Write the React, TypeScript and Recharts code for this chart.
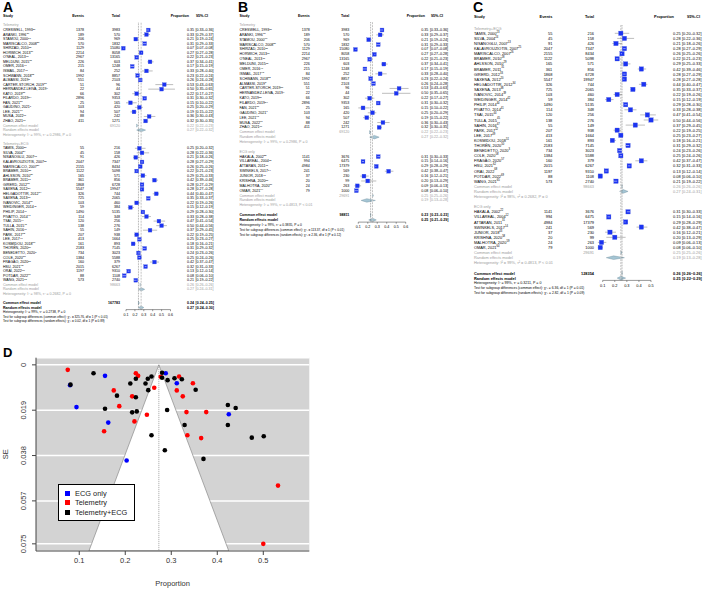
import React from 'react';
import {
  ComposedChart,
  Scatter,
  Area,
  XAxis,
  YAxis,
  ReferenceLine,
  ErrorBar,
  CartesianGrid,
  Legend,
} from 'recharts';

const FONT = '"Liberation Sans", Arial, Helvetica, sans-serif';
const GRAY = '#9c9c9c';

// ---------- Telemetry studies
const telNames = ['CRESWELL, 1993', 'ARANKI, 1996', 'STAMOU, 2000', 'MARISCALCO, 2008', 'SHIRZAD, 2010', 'HORWICH, 2013', "O'NEAL, 2013", 'MELDUNI, 2015', 'OMER, 2016', 'ISMAIL, 2017', 'SCHWANN, 2018', 'ALMASSI, 2019', 'CARTER-STORCH, 2019', 'HERNÁNDEZ-LEIVA, 2019', 'KATO, 2019', 'FILARDO, 2019', 'FAN, 2021', 'GAUDINO, 2021', 'LEE, 2021', 'MUSA, 2022', 'ZHAO, 2021'];
const telRefs = ['21', '30', '17', '27', '35', '36', '37', '15', '46', '48', '52', '5', '53', '4', '55', '54', '57', '7', '61', '67', '66'];
const telEvents = [1378, 189, 206, 570, 1129, 2214, 2967, 226, 215, 84, 1992, 551, 51, 22, 66, 2896, 25, 103, 94, 88, 411];
const telTotals = [3983, 570, 969, 1832, 15080, 8058, 13165, 603, 1248, 252, 8857, 2103, 96, 44, 302, 9353, 165, 420, 507, 242, 1271];
const telProp = [0.35, 0.33, 0.21, 0.31, 0.07, 0.27, 0.22, 0.37, 0.17, 0.33, 0.23, 0.26, 0.53, 0.5, 0.22, 0.31, 0.15, 0.25, 0.19, 0.36, 0.32];
const telLow = [0.33, 0.29, 0.19, 0.29, 0.07, 0.27, 0.21, 0.34, 0.15, 0.28, 0.22, 0.24, 0.43, 0.35, 0.17, 0.3, 0.1, 0.2, 0.15, 0.3, 0.3];
const telHigh = [0.36, 0.37, 0.24, 0.33, 0.08, 0.28, 0.23, 0.41, 0.19, 0.4, 0.24, 0.28, 0.63, 0.65, 0.27, 0.32, 0.22, 0.29, 0.22, 0.43, 0.35];

// ---------- Telemetry+ECG studies
const teNames = ['TAMIS, 2000', 'SILVA, 2004', 'NISANOGLU, 2007', 'KALAVROUZIOTIS, 2007', 'MARISCALCO, 2007', 'BRAMER, 2010', 'AHLSSON, 2010', 'BRAMER, 2011', 'GIRERD, 2012', 'SAXENA, 2012', 'HELGADOTTIR, 2012', 'SAXENA, 2013', 'IVANOVIC, 2014', 'WEIDINGER, 2014', 'PHILIP, 2014', 'PIVATTO, 2014', 'TSAI, 2015', 'TULLA, 2015', 'SAHIN, 2016', 'PARK, 2017', 'LEE, 2017', 'KOSMIDOU, 2018', 'THORÉN, 2020', 'BENEDETTO, 2020', 'COLE, 2020', 'FRAGÃO, 2020', 'HSU, 2021', 'ORAI, 2022', 'POTDAR, 2022', 'WANG, 2021'];
const teRefs = ['23', '24', '13', '25', '26', '28', '29', '31', '33', '20', '34', '38', '39', '42', '40', '41', '44', '45', '47', '12', '49', '51', '50', '3', '58', '57', '62', '68', '69', '65'];
const teEvents = [55, 45, 91, 2047, 2155, 1122, 165, 361, 1868, 5547, 326, 725, 103, 59, 1490, 114, 120, 138, 55, 207, 413, 161, 2183, 734, 1384, 160, 2015, 1197, 88, 573];
const teTotals = [216, 158, 426, 7347, 8434, 5098, 571, 856, 6728, 19947, 744, 2065, 460, 384, 5135, 348, 256, 276, 149, 938, 1664, 893, 7145, 3023, 5588, 379, 6267, 9310, 1108, 2740];
const teProp = [0.25, 0.28, 0.21, 0.28, 0.26, 0.22, 0.29, 0.42, 0.28, 0.28, 0.44, 0.35, 0.22, 0.15, 0.29, 0.33, 0.47, 0.5, 0.37, 0.22, 0.25, 0.18, 0.31, 0.24, 0.25, 0.42, 0.32, 0.13, 0.08, 0.21];
const teLow = [0.2, 0.22, 0.18, 0.27, 0.25, 0.21, 0.25, 0.39, 0.27, 0.27, 0.4, 0.33, 0.19, 0.12, 0.28, 0.28, 0.41, 0.44, 0.29, 0.19, 0.23, 0.16, 0.29, 0.23, 0.24, 0.37, 0.31, 0.12, 0.06, 0.19];
const teHigh = [0.32, 0.36, 0.26, 0.29, 0.26, 0.23, 0.33, 0.46, 0.29, 0.28, 0.47, 0.37, 0.26, 0.19, 0.3, 0.38, 0.54, 0.56, 0.45, 0.25, 0.27, 0.21, 0.32, 0.26, 0.26, 0.47, 0.33, 0.14, 0.1, 0.22];

// ---------- ECG only studies
const ecgNames = ['HAKALA, 2002', 'VILLAREAL, 2004', 'ATTARAN, 2011', 'SWINKELS, 2017', 'JUNIOR, 2018', 'KRISHNA, 2020', 'MALHOTRA, 2020', 'OMAR, 2021'];
const ecgRefs = ['22', '12', '31', '14', '43', '58', '59', '64'];
const ecgEvents = [1141, 994, 4984, 241, 37, 20, 24, 79];
const ecgTotals = [3676, 6475, 17379, 569, 230, 99, 263, 1000];
const ecgProp = [0.31, 0.15, 0.29, 0.42, 0.16, 0.2, 0.09, 0.08];
const ecgLow = [0.3, 0.14, 0.28, 0.38, 0.12, 0.13, 0.06, 0.06];
const ecgHigh = [0.33, 0.16, 0.29, 0.47, 0.21, 0.29, 0.13, 0.1];

// ---------- pooled estimates: [estimate, lower, upper]
const telCommon = [0.22, 0.22, 0.23];
const telRandom = [0.27, 0.22, 0.32];
const teCommon = [0.26, 0.26, 0.26];
const teRandom = [0.27, 0.24, 0.31];
const ecgCommon = [0.25, 0.25, 0.26];
const ecgRandom = [0.19, 0.13, 0.28];

const overallCommonA = [0.24, 0.24, 0.25];
const overallRandomA = [0.27, 0.24, 0.3];
const overallCommonB = [0.23, 0.23, 0.23];
const overallRandomB = [0.25, 0.21, 0.29];
const overallCommonC = [0.26, 0.26, 0.26];
const overallRandomC = [0.25, 0.22, 0.29];

const forestTicksAB = [0.1, 0.2, 0.3, 0.4, 0.5, 0.6];
const forestTicksC = [0.1, 0.2, 0.3, 0.4, 0.5];

// ---------- funnel plot (proportion, standard error)
const ecgX = [0.08, 0.094, 0.156, 0.163, 0.203, 0.288, 0.312, 0.425];
const ecgSE = [0.0085, 0.0177, 0.0046, 0.0242, 0.0401, 0.0035, 0.0077, 0.0207];
const telX = [0.075, 0.175, 0.215, 0.187, 0.223, 0.228, 0.263, 0.277, 0.247, 0.22, 0.154, 0.317, 0.312, 0.325, 0.347, 0.333, 0.335, 0.365, 0.376, 0.532, 0.5];
const telSE = [0.0021, 0.0107, 0.0132, 0.0173, 0.0035, 0.0046, 0.0096, 0.005, 0.0209, 0.0237, 0.0278, 0.0049, 0.0107, 0.0132, 0.0077, 0.0198, 0.0295, 0.0307, 0.0198, 0.0506, 0.075];
const teX = [0.081, 0.131, 0.156, 0.182, 0.211, 0.223, 0.223, 0.215, 0.225, 0.244, 0.249, 0.257, 0.25, 0.257, 0.28, 0.28, 0.292, 0.307, 0.323, 0.353, 0.291, 0.329, 0.286, 0.37, 0.423, 0.44, 0.423, 0.475, 0.501];
const teSE = [0.0083, 0.0035, 0.0184, 0.0129, 0.0078, 0.0058, 0.0136, 0.0199, 0.0195, 0.0078, 0.0058, 0.0049, 0.0106, 0.0295, 0.0033, 0.0054, 0.0064, 0.0056, 0.006, 0.0104, 0.0189, 0.0252, 0.0358, 0.0394, 0.0168, 0.0181, 0.0252, 0.0305, 0.0299];
const funnelX = [0.121, 0.273, 0.425];
const funnelSE = [0.078, 0, 0.078];
const funnelCenter = 0.273;
const seTicks = [0, 0.019, 0.038, 0.057, 0.075];
const propTicks = [0.1, 0.2, 0.3, 0.4, 0.5];
const seriesNames = ['ECG only', 'Telemetry', 'Telemetry+ECG'];
const seriesColors = ['#0000ff', '#ff0000', '#000000'];

interface Group {
  label: string;
  names: string[];
  refs: string[];
  events: number[];
  totals: number[];
  prop: number[];
  low: number[];
  high: number[];
  total: number;
  common: number[];
  random: number[];
  het: string;
}

interface Overall {
  total: number;
  common: number[];
  random: number[];
  het: string;
  testCommon: string;
  testRandom: string;
  lineCommon: number;
  lineRandom: number;
}

interface Layout {
  left: number;
  width: number;
  height: number;
  rowH: number;
  y0: number;
  yMin: number;
  yMax: number;
  xMin: number;
  xMax: number;
  plotL: number;
  plotR: number;
  fs: number;
  sq: number;
  nameX: number;
  eventsR: number;
  totalR: number;
  propR: number;
  ciL: number;
  hdrPropR: number;
  hdrCiR: number;
  hdrIdx: number;
}

const telemetry: Group = {
  label: 'Telemetry', names: telNames, refs: telRefs, events: telEvents, totals: telTotals,
  prop: telProp, low: telLow, high: telHigh, total: 69120, common: telCommon, random: telRandom,
  het: 'Heterogeneity: I² = 99%, τ² = 0.2986, P = 0',
};
const telEcg: Group = {
  label: 'Telemetry+ECG', names: teNames, refs: teRefs, events: teEvents, totals: teTotals,
  prop: teProp, low: teLow, high: teHigh, total: 98663, common: teCommon, random: teRandom,
  het: 'Heterogeneity: I² = 98%, τ² = 0.2682, P = 0',
};
const ecgOnly: Group = {
  label: 'ECG only', names: ecgNames, refs: ecgRefs, events: ecgEvents, totals: ecgTotals,
  prop: ecgProp, low: ecgLow, high: ecgHigh, total: 29691, common: ecgCommon, random: ecgRandom,
  het: 'Heterogeneity: I² = 99%, τ² = 0.4813, P < 0.01',
};

interface Row {
  idx: number;
  kind: string;
  text?: string;
  ref?: string;
  events?: number;
  total?: number;
  est?: number;
  lo?: number;
  hi?: number;
}

function buildRows(groups: Group[], ov: Overall, hdrIdx: number): Row[] {
  const rows: Row[] = [{ idx: hdrIdx, kind: 'header' }];
  let i = -1;
  groups.forEach((g, gi) => {
    if (gi > 0) i += 1;
    rows.push({ idx: i++, kind: 'group', text: g.label });
    g.names.forEach((n, k) => {
      rows.push({
        idx: i++, kind: 'study', text: n, ref: g.refs[k], events: g.events[k], total: g.totals[k],
        est: g.prop[k], lo: g.low[k], hi: g.high[k],
      });
    });
    rows.push({ idx: i++, kind: 'common', text: 'Common effect model', total: g.total, est: g.common[0], lo: g.common[1], hi: g.common[2] });
    rows.push({ idx: i++, kind: 'random', text: 'Random effects model', est: g.random[0], lo: g.random[1], hi: g.random[2] });
    rows.push({ idx: i++, kind: 'het', text: g.het });
  });
  i += 1;
  rows.push({ idx: i++, kind: 'ocommon', text: 'Common effect model', total: ov.total, est: ov.common[0], lo: ov.common[1], hi: ov.common[2] });
  rows.push({ idx: i++, kind: 'orandom', text: 'Random effects model', est: ov.random[0], lo: ov.random[1], hi: ov.random[2] });
  rows.push({ idx: i++, kind: 'ohet', text: ov.het });
  rows.push({ idx: i++, kind: 'test', text: 'Test for subgroup differences (common effect): ' + ov.testCommon });
  rows.push({ idx: i++, kind: 'test', text: 'Test for subgroup differences (random effects): ' + ov.testRandom });
  return rows;
}

const ci = (lo: number, hi: number) => `[${lo.toFixed(2)}–${hi.toFixed(2)}]`;

function makeRowTick(rows: Row[], L: Layout) {
  return function RowTick(props: any) {
    const { y, payload } = props;
    const row = rows.find((r) => Math.abs(r.idx - payload.value) < 1e-6);
    if (!row) return <g />;
    const base = { y, fontSize: L.fs, fontFamily: FONT, dominantBaseline: 'central' as const };
    if (row.kind === 'header') {
      return (
        <g fontWeight="bold" fill="#000">
          <text {...base} x={L.nameX}>Study</text>
          <text {...base} x={L.eventsR} textAnchor="end">Events</text>
          <text {...base} x={L.totalR} textAnchor="end">Total</text>
          <text {...base} x={L.hdrPropR} textAnchor="end">Proportion</text>
          <text {...base} x={L.hdrCiR} textAnchor="end">95%-CI</text>
        </g>
      );
    }
    if (row.kind === 'group' || row.kind === 'het') {
      return <text {...base} x={L.nameX} fill={GRAY}>{row.text}</text>;
    }
    if (row.kind === 'ohet') {
      return <text {...base} x={L.nameX} fill="#000" fontSize={L.fs * 0.92}>{row.text}</text>;
    }
    if (row.kind === 'test') {
      return <text {...base} x={L.nameX} fill="#000" fontSize={L.fs * 0.86}>{row.text}</text>;
    }
    const bold = row.kind === 'ocommon' || row.kind === 'orandom';
    const color = row.kind === 'common' || row.kind === 'random' ? GRAY : '#000';
    return (
      <g fill={color} fontWeight={bold ? 'bold' : 'normal'}>
        <text {...base} x={L.nameX}>
          {row.text}
          {row.ref && (
            <tspan fontSize={L.fs * 0.68} dy={-L.fs * 0.4}>{row.ref}</tspan>
          )}
        </text>
        {row.events !== undefined && (
          <text {...base} x={L.eventsR} textAnchor="end">{row.events}</text>
        )}
        {row.total !== undefined && (
          <text {...base} x={L.totalR} textAnchor="end">{row.total}</text>
        )}
        <text {...base} x={L.propR} textAnchor="end">{(row.est as number).toFixed(2)}</text>
        <text {...base} x={L.ciL}>{ci(row.lo as number, row.hi as number)}</text>
      </g>
    );
  };
}

function makeSquare(size: number, ppu: number) {
  return function Square(props: any) {
    const { cx, cy, payload } = props;
    if (cx == null || cy == null) return <g />;
    const h = size / 2;
    const left = cx - payload.err[0] * ppu;
    const right = cx + payload.err[1] * ppu;
    return (
      <g>
        <rect x={cx - h} y={cy - h} width={size} height={size} fill="#1b33f2" stroke="#5566dd" strokeWidth={0.3} />
        {right - left < size && (
          <line x1={left} x2={right} y1={cy} y2={cy} stroke="#ffffff" strokeWidth={0.5} />
        )}
      </g>
    );
  };
}

function Forest({ label, L, groups, ov, ticks }: { label: string; L: Layout; groups: Group[]; ov: Overall; ticks: number[] }) {
  const rows = buildRows(groups, ov, L.hdrIdx);
  const studyPts = rows
    .filter((r) => r.kind === 'study')
    .map((r) => ({ x: r.est as number, y: r.idx, err: [(r.est as number) - (r.lo as number), (r.hi as number) - (r.est as number)] }));
  const diamondRows = rows.filter((r) => ['common', 'random', 'ocommon', 'orandom'].includes(r.kind));
  const orandomIdx = (rows.find((r) => r.kind === 'orandom') as Row).idx;
  const axisRow = orandomIdx + 0.45;
  const tickLen = 1.6 / L.rowH;
  const top = L.y0 + L.yMin * L.rowH;
  const bottom = L.height - (L.y0 + L.yMax * L.rowH);
  const ppu = (L.plotR - L.plotL) / (L.xMax - L.xMin);
  const RowTick = makeRowTick(rows, L);
  const Square = makeSquare(L.sq, ppu);
  const hh = 0.36;

  return (
    <div style={{ position: 'absolute', left: L.left, top: 0, width: L.width, height: L.height }}>
      <div style={{ position: 'absolute', left: 3, top: 1, fontSize: 14, lineHeight: '12px', height: 12, fontWeight: 'bold', fontFamily: FONT }}>
        {label}
      </div>
      <ComposedChart
        width={L.width}
        height={L.height}
        margin={{ top, right: L.width - L.plotR, bottom, left: L.plotL - 1 }}
      >
        <XAxis type="number" dataKey="x" domain={[L.xMin, L.xMax]} hide allowDataOverflow />
        <YAxis
          type="number"
          dataKey="y"
          domain={[L.yMin, L.yMax]}
          reversed
          allowDataOverflow
          width={1}
          axisLine={false}
          tickLine={false}
          interval={0}
          ticks={rows.map((r) => r.idx)}
          tick={RowTick}
        />
        <ReferenceLine
          segment={[{ x: ov.lineRandom, y: -1.6 }, { x: ov.lineRandom, y: axisRow }]}
          stroke="#c4c4c4"
          strokeWidth={1}
          strokeDasharray="2 1"
        />
        <ReferenceLine
          segment={[{ x: ov.lineCommon, y: -1.6 }, { x: ov.lineCommon, y: axisRow }]}
          stroke="#666"
          strokeWidth={0.6}
          strokeDasharray="0.8 0.8"
        />
        <ReferenceLine
          segment={[{ x: ticks[0], y: axisRow }, { x: ticks[ticks.length - 1], y: axisRow }]}
          stroke="#333"
          strokeWidth={0.5}
        />
        {ticks.map((t) => (
          <ReferenceLine
            key={`t${t}`}
            segment={[{ x: t, y: axisRow }, { x: t, y: axisRow + tickLen }]}
            stroke="#333"
            strokeWidth={0.5}
            label={{ value: t.toFixed(1), position: 'bottom', offset: 1.8, fontSize: L.fs, fill: '#000', fontFamily: FONT }}
          />
        ))}
        {diamondRows.map((r) => (
          <Area
            key={`d${r.idx}`}
            data={[
              { x: r.lo, band: [r.idx, r.idx] },
              { x: r.est, band: [r.idx - hh, r.idx + hh] },
              { x: r.hi, band: [r.idx, r.idx] },
            ]}
            dataKey="band"
            type="linear"
            fill="#a4c5d4"
            fillOpacity={1}
            stroke="#6f8e9c"
            strokeWidth={0.4}
            dot={false}
            activeDot={false}
            isAnimationActive={false}
          />
        ))}
        <Scatter data={studyPts} shape={Square} isAnimationActive={false}>
          <ErrorBar dataKey="err" direction="x" width={0} stroke="#7a7a7a" strokeWidth={0.5} />
        </Scatter>
      </ComposedChart>
    </div>
  );
}

const layoutA: Layout = {
  left: 0, width: 235, height: 340, rowH: 4.55, y0: 30, yMin: -3.6, yMax: 64.6, xMin: 0, xMax: 0.7,
  plotL: 117.1, plotR: 179.4, fs: 3.6, sq: 3.8, nameX: 3, eventsR: 84, totalR: 120, propR: 194, ciL: 195.5,
  hdrPropR: 189, hdrCiR: 208, hdrIdx: -3.0,
};
const layoutB: Layout = {
  left: 235, width: 235, height: 340, rowH: 4.87, y0: 30, yMin: -3.4, yMax: 42.6, xMin: 0, xMax: 0.7,
  plotL: 113.8, plotR: 180.2, fs: 3.6, sq: 3.9, nameX: 4.5, eventsR: 74.7, totalR: 114.3, propR: 193.3, ciL: 195,
  hdrPropR: 190, hdrCiR: 208, hdrIdx: -2.8,
};
const layoutC: Layout = {
  left: 470, width: 239, height: 340, rowH: 5.1, y0: 33.3, yMin: -3.9, yMax: 52.6, xMin: 0.02, xMax: 0.58,
  plotL: 123.04, plotR: 190.66, fs: 3.9, sq: 4.4, nameX: 4, eventsR: 82.3, totalR: 124, propR: 210.7, ciL: 212,
  hdrPropR: 204, hdrCiR: 230, hdrIdx: -3.3,
};

const overallA: Overall = {
  total: 167783, common: overallCommonA, random: overallRandomA,
  het: 'Heterogeneity: I² = 99%, τ² = 0.2738, P = 0',
  testCommon: 'χ²₁ = 325.76, df = 1 (P < 0.01)', testRandom: 'χ²₁ = 0.02, df = 1 (P = 0.89)',
  lineCommon: 0.24, lineRandom: 0.27,
};
const overallB: Overall = {
  total: 98811, common: overallCommonB, random: overallRandomB,
  het: 'Heterogeneity: I² = 99%, τ² = 0.3835, P = 0',
  testCommon: 'χ²₁ = 113.37, df = 1 (P < 0.01)', testRandom: 'χ²₁ = 2.36, df = 1 (P = 0.12)',
  lineCommon: 0.23, lineRandom: 0.25,
};
const overallC: Overall = {
  total: 128354, common: overallCommonC, random: overallRandomC,
  het: 'Heterogeneity: I² = 99%, τ² = 0.3211, P = 0',
  testCommon: 'χ²₁ = 6.36, df = 1 (P = 0.01)', testRandom: 'χ²₁ = 2.82, df = 1 (P = 0.09)',
  lineCommon: 0.26, lineRandom: 0.25,
};

function Dot(props: any) {
  const { cx, cy, fill } = props;
  if (cx == null || cy == null) return <g />;
  return <circle cx={cx} cy={cy} r={2.3} fill={fill} />;
}

function SeTick(props: any) {
  const { x, y, payload } = props;
  const bx = x - 4;
  return (
    <text
      x={bx}
      y={y}
      transform={`rotate(-90, ${bx}, ${y})`}
      textAnchor="middle"
      fontSize={7.5}
      fontFamily={FONT}
      fill="#333"
    >
      {payload.value === 0 ? '0' : String(payload.value)}
    </text>
  );
}

function FunnelLegend() {
  return (
    <div
      style={{
        border: '1px solid #000',
        background: '#fff',
        width: 77,
        height: 37,
        boxSizing: 'border-box',
        padding: '4px 0 0 6px',
        fontFamily: FONT,
        fontSize: 7.4,
        color: '#222',
      }}
    >
      {seriesNames.map((n, i) => (
        <div key={n} style={{ display: 'flex', alignItems: 'center', height: 9.3 }}>
          <span style={{ width: 5, height: 5, background: seriesColors[i], marginRight: 5, display: 'inline-block' }} />
          <span>{n}</span>
        </div>
      ))}
    </div>
  );
}

function Funnel() {
  const ecgPts = ecgX.map((x, i) => ({ x, y: ecgSE[i] }));
  const telPts = telX.map((x, i) => ({ x, y: telSE[i] }));
  const tePts = teX.map((x, i) => ({ x, y: teSE[i] }));
  const funnelData = funnelX.map((x, i) => ({ x, band: [funnelSE[i], 0.078] }));
  return (
    <div style={{ position: 'absolute', left: 0, top: 340, width: 360, height: 250 }}>
      <div style={{ position: 'absolute', left: 3, top: 6, fontSize: 13, lineHeight: '13px', fontWeight: 'bold', fontFamily: FONT }}>
        D
      </div>
      <ComposedChart width={360} height={250} margin={{ top: 17.7, right: 50.7, bottom: 17, left: 8 }}>
        <CartesianGrid vertical={false} stroke="#ffffff" strokeWidth={1.5} fill="#d3d3d3" fillOpacity={1} />
        <XAxis
          type="number"
          dataKey="x"
          domain={[0.006, 0.6]}
          allowDataOverflow
          ticks={propTicks}
          height={22}
          tickSize={4}
          tickMargin={3}
          stroke="#444"
          tick={{ fontSize: 7.5, fill: '#333', fontFamily: FONT }}
          label={{
            content: (p: any) => {
              const vb = p.viewBox;
              return (
                <text x={vb.x + vb.width / 2} y={vb.y + vb.height + 10} textAnchor="middle" dominantBaseline="central" fontSize={7.5} fontFamily={FONT} fill="#333">
                  Proportion
                </text>
              );
            },
          }}
        />
        <YAxis
          type="number"
          dataKey="y"
          reversed
          domain={[-0.003, 0.078]}
          allowDataOverflow
          ticks={seTicks}
          width={28}
          tickSize={4}
          tickMargin={2}
          stroke="#444"
          tick={SeTick}
          label={{
            content: (p: any) => {
              const vb = p.viewBox;
              const cx = vb.x - 2;
              const cy = vb.y + vb.height / 2;
              return (
                <text x={cx} y={cy} transform={`rotate(-90, ${cx}, ${cy})`} textAnchor="middle" dominantBaseline="central" fontSize={7.5} fontFamily={FONT} fill="#333">
                  SE
                </text>
              );
            },
          }}
        />
        <Area
          data={funnelData}
          dataKey="band"
          type="linear"
          fill="#ffffff"
          fillOpacity={1}
          stroke="#8a8a8a"
          strokeWidth={0.7}
          dot={false}
          activeDot={false}
          isAnimationActive={false}
        />
        <ReferenceLine
          segment={[{ x: funnelCenter, y: 0 }, { x: funnelCenter, y: 0.078 }]}
          stroke="#8a8a8a"
          strokeWidth={0.8}
          strokeDasharray="1 1"
        />
        <Scatter name={seriesNames[0]} data={ecgPts} fill={seriesColors[0]} shape={Dot} isAnimationActive={false} />
        <Scatter name={seriesNames[1]} data={telPts} fill={seriesColors[1]} shape={Dot} isAnimationActive={false} />
        <Scatter name={seriesNames[2]} data={tePts} fill={seriesColors[2]} shape={Dot} isAnimationActive={false} />
        <Legend
          layout="vertical"
          align="center"
          verticalAlign="middle"
          content={() => <FunnelLegend />}
          wrapperStyle={{ position: 'absolute', left: 58, top: 144, width: 77, height: 37 }}
        />
      </ComposedChart>
    </div>
  );
}

export default function App() {
  return (
    <div
      style={{
        position: 'absolute',
        left: 0,
        top: 0,
        width: 709,
        height: 590,
        background: '#ffffff',
        overflow: 'hidden',
        fontFamily: FONT,
      }}
    >
      <Forest label="A" L={layoutA} groups={[telemetry, telEcg]} ov={overallA} ticks={forestTicksAB} />
      <Forest label="B" L={layoutB} groups={[telemetry, ecgOnly]} ov={overallB} ticks={forestTicksAB} />
      <Forest label="C" L={layoutC} groups={[telEcg, ecgOnly]} ov={overallC} ticks={forestTicksC} />
      <Funnel />
    </div>
  );
}
